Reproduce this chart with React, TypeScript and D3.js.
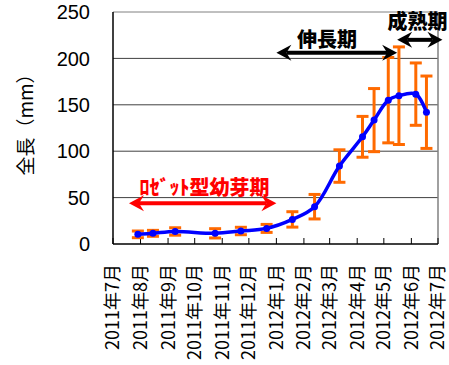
import React from "react";
import * as d3 from "d3";

const dates = [
  "2011-07-29", "2011-08-15", "2011-09-09", "2011-10-24", "2011-11-22", "2011-12-21",
  "2012-01-19", "2012-02-13", "2012-03-12", "2012-04-07", "2012-04-20", "2012-05-06",
  "2012-05-18", "2012-06-06", "2012-06-18",
];
const lengths = [10.4, 11.5, 13.5, 11.5, 14, 16.8, 26.5, 40.2, 84, 115.5, 133.5, 155, 159.8, 161.5, 142];
const errors = [3.6, 3.2, 4, 5, 4, 4.3, 8.3, 13.2, 17.5, 22, 34, 46, 52.6, 33.6, 39];
const yTicks = [0, 50, 100, 150, 200, 250];
const monthTicks = [
  "2011-07-01", "2011-08-01", "2011-09-01", "2011-10-01", "2011-11-01", "2011-12-01",
  "2012-01-01", "2012-02-01", "2012-03-01", "2012-04-01", "2012-05-01", "2012-06-01", "2012-07-01",
];
const yTitle = "全長（mm）";
const periods = [
  { label: "ﾛｾﾞｯﾄ型幼芽期", from: "2011-07-19", to: "2012-01-01", textAt: "2011-10-12", value: 44, textValue: 61, color: "#ff0000" },
  { label: "伸長期", from: "2012-01-01", to: "2012-05-16", textAt: "2012-02-27", value: 206, textValue: 220, color: "#000000" },
  { label: "成熟期", from: "2012-05-16", to: "2012-07-06", textAt: "2012-06-08", value: 220, textValue: 239, color: "#000000" },
];

const W = 449, H = 365;
const M = { left: 113, right: 438, top: 12, bottom: 244 };

export default function App() {
  const parse = (s: string) => new Date(s + "T00:00:00");
  const x = d3.scaleTime().domain([parse("2011-07-01"), parse("2012-07-01")]).range([M.left, M.right]);
  const y = d3.scaleLinear().domain([0, 250]).range([M.bottom, M.top]);
  const pts = dates.map((d, i) => ({ x: x(parse(d)), y: y(lengths[i]), lo: y(lengths[i] - errors[i]), hi: y(lengths[i] + errors[i]) }));
  const line = d3.line<{ x: number; y: number }>().x(d => d.x).y(d => d.y).curve(d3.curveCatmullRom.alpha(0.5));
  const jp = "'Noto Sans CJK JP', sans-serif";
  const num = "'Liberation Sans', Arial, sans-serif";

  const arrow = (x1: number, x2: number, yy: number, color: string, key: string) => {
    const L = 15, h = 8, n = 10;
    return (
      <g key={key} fill={color} stroke="none">
        <line x1={x1 + n} x2={x2 - n} y1={yy} y2={yy} stroke={color} strokeWidth={4} />
        <path d={`M${x1},${yy} L${x1 + L},${yy - h} L${x1 + n},${yy} L${x1 + L},${yy + h} Z`} />
        <path d={`M${x2},${yy} L${x2 - L},${yy - h} L${x2 - n},${yy} L${x2 - L},${yy + h} Z`} />
      </g>
    );
  };

  return (
    <svg width={W} height={H} style={{ position: "absolute", left: 0, top: 0, background: "#fff" }}>
      {yTicks.filter(t => t > 0).map(t => (
        <line key={"g" + t} x1={M.left} x2={M.right} y1={y(t)} y2={y(t)} stroke={t === 250 ? "#808080" : "#404040"} strokeWidth={1} />
      ))}
      <line x1={M.right} x2={M.right} y1={M.top} y2={M.bottom} stroke="#808080" strokeWidth={1.5} />
      <line x1={M.left} x2={M.left} y1={M.top} y2={M.bottom} stroke="#000" strokeWidth={1.5} />
      <line x1={M.left} x2={M.right} y1={M.bottom} y2={M.bottom} stroke="#000" strokeWidth={1.5} />
      {monthTicks.map(m => (
        <line key={"t" + m} x1={x(parse(m))} x2={x(parse(m))} y1={M.bottom} y2={M.bottom - 6} stroke="#000" strokeWidth={1} />
      ))}
      {yTicks.map(t => (
        <text key={"yl" + t} x={90} y={y(t)} dy="0.36em" textAnchor="end" fontFamily={num} fontSize={20} fill="#000">{t}</text>
      ))}
      <text transform={`translate(26,120) rotate(-90)`} textAnchor="middle" dy="0.36em" fontFamily={jp} fontSize={19} fill="#000">{yTitle}</text>
      {monthTicks.map(m => {
        const d = parse(m);
        const label = `${d.getFullYear()}年${d.getMonth() + 1}月`;
        return (
          <text key={"xl" + m} transform={`translate(${x(d)},264) rotate(-90)`} textAnchor="end" dy="0.36em" fontFamily={jp} fontSize={18} fill="#000">{label}</text>
        );
      })}
      <g stroke="#ff6a00" strokeWidth={3}>
        {pts.map((p, i) => (
          <g key={"e" + i}>
            <line x1={p.x} x2={p.x} y1={p.lo} y2={p.hi} />
            <line x1={p.x - 6} x2={p.x + 6} y1={p.lo} y2={p.lo} />
            <line x1={p.x - 6} x2={p.x + 6} y1={p.hi} y2={p.hi} />
          </g>
        ))}
      </g>
      <path d={line(pts) || ""} fill="none" stroke="#0000ff" strokeWidth={3.5} />
      {pts.map((p, i) => (
        <circle key={"c" + i} cx={p.x} cy={p.y} r={3.5} fill="#0000ff" />
      ))}
      {periods.map((p, i) => {
        const x1 = x(parse(p.from)), x2 = x(parse(p.to));
        return (
          <g key={"p" + i}>
            {arrow(x1, x2, y(p.value), p.color, "a" + i)}
            <text x={x(parse(p.textAt))} y={y(p.textValue)} dy="0.36em" textAnchor="middle" fontFamily={jp} fontWeight={900} fontSize={20} fill={p.color}>{p.label}</text>
          </g>
        );
      })}
    </svg>
  );
}
